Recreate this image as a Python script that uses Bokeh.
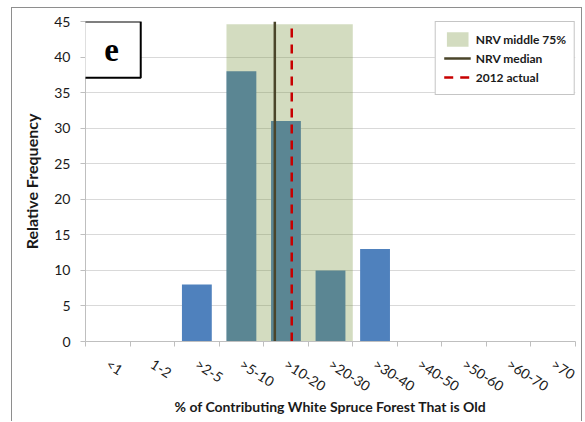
from bokeh.plotting import figure
from bokeh.models import (FixedTicker, BoxAnnotation, Label, Legend, LegendItem,
                          Range1d)
from bokeh.embed import file_html
from bokeh.resources import INLINE

# ---- data -------------------------------------------------------------
categories = ["<1", "1-2", ">2-5", ">5-10", ">10-20", ">20-30",
              ">30-40", ">40-50", ">50-60", ">60-70", ">70"]
frequency = [0, 0, 8, 38, 31, 10, 13, 0, 0, 0, 0]

# NRV statistics, expressed on the category axis (index units)
nrv_low = 3.165
nrv_high = 6.0
nrv_top = 44.6
nrv_median = 4.25
actual_2012 = 4.63

y_ticks = [0, 5, 10, 15, 20, 25, 30, 35, 40, 45]
panel_letter = "e"

# ---- derived positions ---------------------------------------------------
centers = [i + 0.5 for i in range(len(categories))]
boundaries = [float(i) for i in range(len(categories) + 1)]

FONT = "Lato"
GRAY = "#BFBFBF"
TXT = "#1a1a1a"

p = figure(width=571, height=414,
           x_range=Range1d(0, len(categories)), y_range=Range1d(0, 45),
           output_backend="svg", toolbar_location=None,
           min_border_left=73, min_border_right=8,
           min_border_top=13, min_border_bottom=81)
p.styles = {"border-left": "1px solid #8E8E8E",
            "border-top": "1px solid #8E8E8E",
            "border-right": "1px solid #8E8E8E",
            "margin-left": "11px",
            "margin-top": "7px"}
p.outline_line_color = None
p.background_fill_color = "white"
p.border_fill_color = "white"

# bars
p.vbar(x=centers, top=frequency, width=0.67,
       fill_color="#4F81BD", line_color=None)

# NRV middle 75% (semi-transparent overlay)
r_nrv = p.quad(left=[nrv_low], right=[nrv_high], bottom=[0], top=[nrv_top],
               fill_color="#77933C", fill_alpha=0.32, line_color=None)

# NRV median
r_med = p.line(x=[nrv_median, nrv_median], y=[0, 45],
               line_color="#4A452A", line_width=2.5)

# 2012 actual
r_act = p.line(x=[actual_2012, actual_2012], y=[0, 45],
               line_color="#C80000", line_width=2.5, line_dash="9 7")

# ---- axes ----------------------------------------------------------------
p.xgrid.grid_line_color = None
p.ygrid.grid_line_color = "#D9D9D9"
p.ygrid.grid_line_width = 1

ya = p.yaxis[0]
ya.ticker = FixedTicker(ticks=y_ticks)
ya.axis_line_color = GRAY
ya.major_tick_line_color = GRAY
ya.major_tick_out = 5
ya.major_tick_in = 0
ya.minor_tick_line_color = None
ya.major_label_text_font = FONT
ya.major_label_text_font_size = "14px"
ya.major_label_text_color = TXT
ya.major_label_standoff = 10
ya.axis_label = "Relative Frequency"
ya.axis_label_text_font = FONT
ya.axis_label_text_font_style = "bold"
ya.axis_label_text_font_size = "16px"
ya.axis_label_text_color = TXT
ya.axis_label_standoff = 10

xa = p.xaxis[0]
xa.ticker = FixedTicker(ticks=centers, minor_ticks=boundaries)
xa.major_label_overrides = {c: lab for c, lab in zip(centers, categories)}
xa.axis_line_color = GRAY
xa.major_tick_line_color = None
xa.major_tick_out = 0
xa.major_tick_in = 0
xa.minor_tick_line_color = GRAY
xa.minor_tick_out = 5
xa.minor_tick_in = 0
xa.major_label_orientation = -0.57
xa.major_label_text_font = FONT
xa.major_label_text_font_size = "14px"
xa.major_label_text_color = TXT
xa.major_label_standoff = 16
xa.axis_label = "% of Contributing White Spruce Forest That is Old"
xa.axis_label_text_font = FONT
xa.axis_label_text_font_style = "bold"
xa.axis_label_text_font_size = "14px"
xa.axis_label_text_color = TXT
xa.axis_label_standoff = -7

# ---- legend ---------------------------------------------------------------
legend = Legend(items=[LegendItem(label="NRV middle 75%", renderers=[r_nrv]),
                       LegendItem(label="NRV median", renderers=[r_med]),
                       LegendItem(label="2012 actual", renderers=[r_act])],
                location="top_right", margin=0, padding=8, spacing=1,
                glyph_width=27, glyph_height=18, label_height=18,
                label_standoff=5,
                label_text_font=FONT, label_text_font_style="bold",
                label_text_font_size="12px", label_text_color=TXT,
                border_line_color="#8C8C8C", border_line_width=1,
                background_fill_color="white", background_fill_alpha=1)
p.add_layout(legend)

# ---- panel letter box -------------------------------------------------------
box = BoxAnnotation(left=-0.07, right=1.24, bottom=37.1, top=45,
                    fill_color="white", fill_alpha=1,
                    line_color="black", line_alpha=1, line_width=2)
p.add_layout(box)
p.add_layout(Label(x=0.585, y=41.0, text=panel_letter,
                   text_font="Liberation Serif", text_font_style="bold",
                   text_font_size="33px", text_align="center",
                   text_baseline="middle", text_color="black"))

open("out.html", "w").write(file_html(p, INLINE))
